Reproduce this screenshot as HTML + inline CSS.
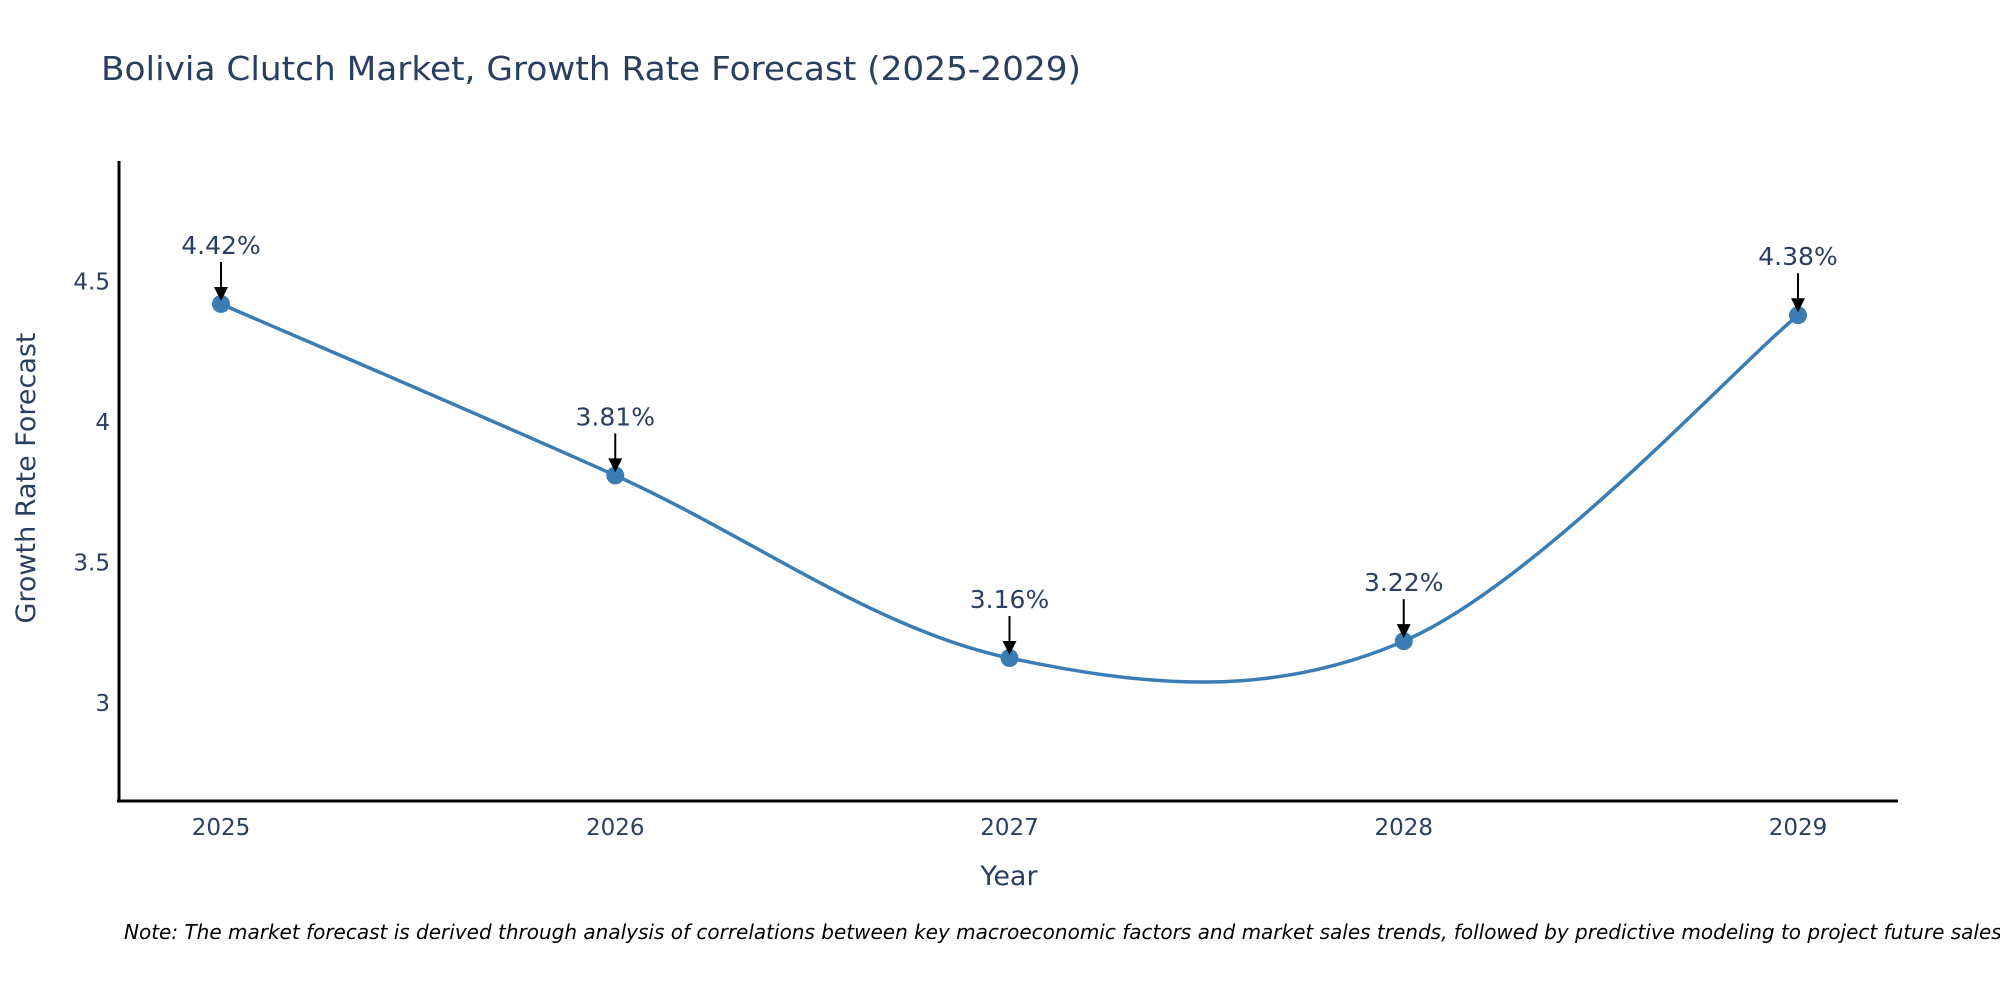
<!DOCTYPE html>
<html><head><meta charset="utf-8"><style>
html,body{margin:0;padding:0;background:#fff;}
svg text{font-family:"DejaVu Sans","Liberation Sans",sans-serif;}
</style></head><body>
<svg id="chart" width="2000" height="1000" viewBox="0 0 2000 1000" xmlns="http://www.w3.org/2000/svg">
<rect width="2000" height="1000" fill="#fff"/>
<text x="101" y="80" font-size="33" fill="#2a3f5f" textLength="980" lengthAdjust="spacingAndGlyphs">Bolivia Clutch Market, Growth Rate Forecast (2025-2029)</text>
<g id="plot"></g>
<line x1="119" y1="161" x2="119" y2="802" stroke="#000" stroke-width="3"/>
<line x1="117" y1="801" x2="1898" y2="801" stroke="#000" stroke-width="3"/>
<text x="1009" y="885" font-size="27" fill="#2a3f5f" text-anchor="middle">Year</text>
<text transform="translate(35,478) rotate(-90)" font-size="27" fill="#2a3f5f" text-anchor="middle">Growth Rate Forecast</text>
<text x="124" y="939" font-size="20" font-style="italic" fill="#000">Note: The market forecast is derived through analysis of correlations between key macroeconomic factors and market sales trends, followed by predictive modeling to project future sales</text>
</svg>
<script>
const years = [2025, 2026, 2027, 2028, 2029];
const growth = [4.42, 3.81, 3.16, 3.22, 4.38];
const labels = ["4.42%", "3.81%", "3.16%", "3.22%", "4.38%"];
const yTicks = [3, 3.5, 4, 4.5];
const yTickLabels = ["3", "3.5", "4", "4.5"];

const NS = "http://www.w3.org/2000/svg";
const g = document.getElementById('plot');
function xScale(v){ return 221 + (v - 2025) * 394.25; }
function yScale(v){ return 703 - (v - 3) * 281; }
function mk(tag, attrs){ const e = document.createElementNS(NS, tag); for (const k in attrs) e.setAttribute(k, attrs[k]); return e; }

yTicks.forEach((t, i) => {
  const tx = mk('text', {x: 110, y: yScale(t) + 8, 'font-size': 23, fill: '#2a3f5f', 'text-anchor': 'end'});
  
  
  tx.textContent = yTickLabels[i];
  g.appendChild(tx);
});
years.forEach(y => {
  const tx = mk('text', {x: xScale(y), y: 835, 'font-size': 23, fill: '#2a3f5f', 'text-anchor': 'middle'});
  
  
  tx.textContent = String(y);
  g.appendChild(tx);
});

const pts = years.map((y, i) => [xScale(y), yScale(growth[i])]);
let d = 'M' + pts[0][0] + ',' + pts[0][1];
const tn = 0.17;
for (let i = 0; i < pts.length - 1; i++) {
  const p0 = pts[Math.max(0, i - 1)], p1 = pts[i], p2 = pts[i + 1], p3 = pts[Math.min(pts.length - 1, i + 2)];
  const c1 = [p1[0] + (p2[0] - p0[0]) * tn, p1[1] + (p2[1] - p0[1]) * tn];
  const c2 = [p2[0] - (p3[0] - p1[0]) * tn, p2[1] - (p3[1] - p1[1]) * tn];
  d += ' C' + c1[0] + ',' + c1[1] + ' ' + c2[0] + ',' + c2[1] + ' ' + p2[0] + ',' + p2[1];
}
const path = mk('path', {d: d, fill: 'none', stroke: '#3a7db4', 'stroke-width': 3.5});


g.appendChild(path);

pts.forEach((p, i) => {
  const c = mk('circle', {cx: p[0], cy: p[1], r: 9, fill: '#3a7db4'});
  
  
  g.appendChild(c);
  const ln = mk('line', {x1: p[0], y1: p[1] - 42, x2: p[0], y2: p[1] - 16, stroke: '#000', 'stroke-width': 2});
  
  
  g.appendChild(ln);
  const hd = mk('polygon', {points: (p[0]-7)+','+(p[1]-17)+' '+(p[0]+7)+','+(p[1]-17)+' '+p[0]+','+(p[1]-3), fill: '#000'});
  
  
  g.appendChild(hd);
  const tx = mk('text', {x: p[0], y: p[1] - 50, 'font-size': 25, fill: '#2a3f5f', 'text-anchor': 'middle'});
  
  
  tx.textContent = labels[i];
  g.appendChild(tx);
});
</script>
</body></html>
